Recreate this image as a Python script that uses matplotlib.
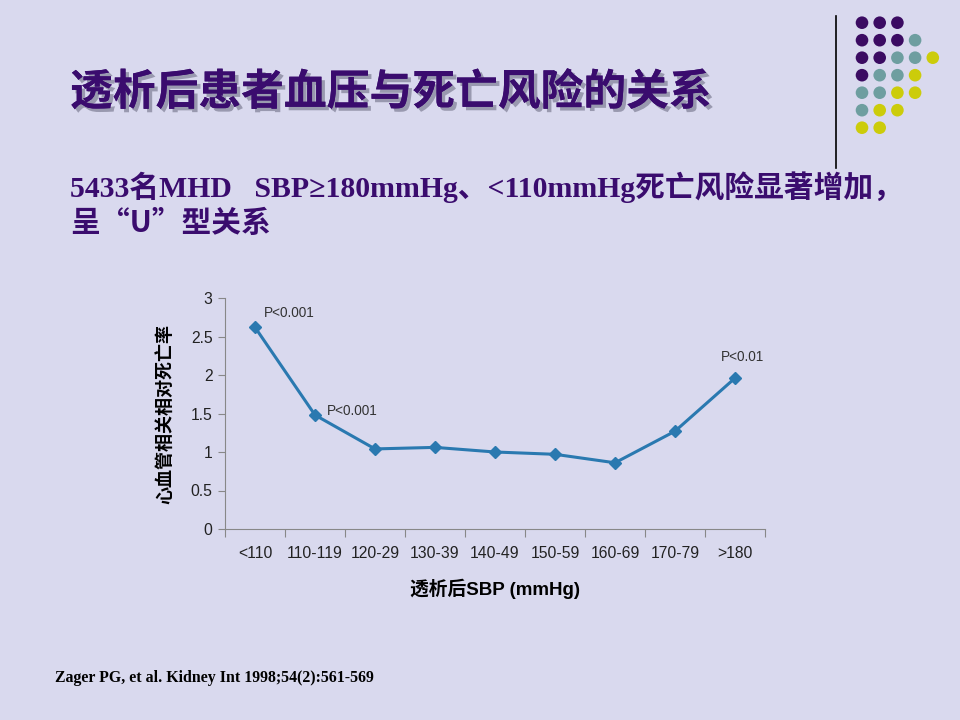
import matplotlib
matplotlib.use("Agg")
import matplotlib.pyplot as plt
import matplotlib.patheffects as pe
from matplotlib.patches import Circle
from matplotlib.lines import Line2D

plt.rcParams['font.family'] = ['Liberation Sans', 'Noto Sans CJK SC', 'DejaVu Sans']

# data
categories = ['<110', '110-119', '120-29', '130-39', '140-49', '150-59', '160-69', '170-79', '>180']
relative_risk = [2.62, 1.48, 1.04, 1.06, 1.00, 0.97, 0.86, 1.27, 1.96]
p_labels = {0: 'P<0.001', 1: 'P<0.001', 8: 'P<0.01'}
y_ticks = [0, 0.5, 1, 1.5, 2, 2.5, 3]
y_tick_labels = ['0', '0.5', '1', '1.5', '2', '2.5', '3']

# decorative dot grid (P purple, T teal, Y yellow)
dot_rows = ['PPP', 'PPPT', 'PPTTY', 'PTTY', 'TTYY', 'TYY', 'YY']
dot_colors = {'P': '#3b0b62', 'T': '#6e9ea0', 'Y': '#cccc0a'}

bg = '#d9d9ee'
purple = '#3a0c6e'
line_blue = '#2a79b0'

fig = plt.figure(figsize=(9.6, 7.2), dpi=100, facecolor=bg)
W, H = 960, 720

# background decoration in pixel coords
deco = fig.add_axes([0, 0, 1, 1], zorder=-1)
deco.set_xlim(0, W)
deco.set_ylim(H, 0)
deco.axis('off')
for r, row in enumerate(dot_rows):
    for c, ch in enumerate(row):
        deco.add_patch(Circle((862 + c * 17.7, 22.7 + r * 17.5), 6.3,
                              facecolor=dot_colors[ch], edgecolor='none'))
deco.add_line(Line2D([836, 836], [16, 168], color='black', lw=1.2))

# title with shadow
fig.text(70 / W, 1 - 92 / H, '透析后患者血压与死亡风险的关系', family=['Noto Sans CJK SC'],
         fontsize=30.8, fontweight='heavy', color=purple, va='center', ha='left',
         path_effects=[pe.withSimplePatchShadow(offset=(2.5, -2.5), shadow_rgbFace='#8a8aa0', alpha=0.8),
                       pe.Normal()])

sub_family = ['Liberation Serif', 'Noto Sans CJK SC']
fig.text(70 / W, 1 - 187 / H, '5433名MHD   SBP≥180mmHg、<110mmHg死亡风险显著增加，',
         family=sub_family, fontsize=21.4, fontweight='bold', color=purple, va='center', ha='left')
fig.text(70 / W, 1 - 223 / H, '呈', family=['Noto Sans CJK SC'], fontsize=21.4,
         fontweight='bold', color=purple, va='center', ha='left')
fig.text(100 / W, 1 - 223 / H, '“U”型关系', family=['Noto Sans CJK SC'], fontsize=21.4,
         fontweight='bold', color=purple, va='center', ha='left')

fig.text(55 / W, 1 - 678 / H, 'Zager PG, et al. Kidney Int 1998;54(2):561-569',
         family=['Liberation Serif'], fontsize=11.4, fontweight='bold', color='black',
         va='center', ha='left')

# chart
ax = fig.add_axes([225 / W, 1 - 529 / H, 540 / W, 231 / H])
ax.set_facecolor('none')
x = list(range(len(categories)))
ax.plot(x, relative_risk, color=line_blue, lw=2.2, marker='D', markersize=6.5,
        markerfacecolor=line_blue, markeredgecolor=line_blue)
ax.set_xlim(-0.5, len(categories) - 0.5)
ax.set_ylim(0, 3)
ax.set_yticks(y_ticks)
ax.set_yticklabels(y_tick_labels)
ax.set_xticks([i - 0.5 for i in range(len(categories) + 1)], minor=False)
ax.set_xticklabels([])
ax.set_xticks(x, minor=True)
ax.set_xticklabels(categories, minor=True)
ax.tick_params(axis='x', which='major', length=6, color='#888888', direction='out')
ax.tick_params(axis='x', which='minor', length=0, pad=12, labelsize=11.3, labelcolor='#222222')
ax.tick_params(axis='y', length=5, color='#888888', labelsize=11.3, labelcolor='#222222', pad=4)
for s in ['top', 'right']:
    ax.spines[s].set_visible(False)
ax.spines['left'].set_color('#888888')
ax.spines['bottom'].set_color('#888888')

offsets = {0: (0.15, 0.19), 1: (0.2, 0.05), 8: (0.13, 0.27)}
for i, lab in p_labels.items():
    dx, dy = offsets[i]
    ax.text(x[i] + dx, relative_risk[i] + dy, lab, fontsize=9.8, color='#333333',
            ha='left' if i != 8 else 'center', va='center')

ax.set_ylabel('心血管相关相对死亡率', family=['Noto Sans CJK SC'], fontsize=13,
              fontweight='bold', labelpad=12)
ax.set_xlabel('透析后SBP (mmHg)', family=['Liberation Sans', 'Noto Sans CJK SC'],
              fontsize=13.5, fontweight='bold', labelpad=13)

fig.savefig('out.png', dpi=100, facecolor=bg)
